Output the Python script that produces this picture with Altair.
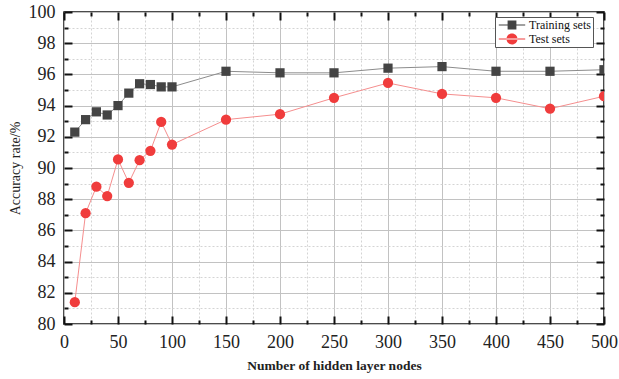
import altair as alt
import pandas as pd

FONT = "Liberation Serif"

nodes = [10, 20, 30, 40, 50, 60, 70, 80, 90, 100, 150, 200, 250, 300, 350, 400, 450, 500]
training = [92.3, 93.1, 93.6, 93.4, 94.0, 94.8, 95.4, 95.35, 95.2, 95.2,
            96.2, 96.1, 96.1, 96.4, 96.5, 96.2, 96.2, 96.3]
test = [81.4, 87.1, 88.8, 88.2, 90.55, 89.05, 90.5, 91.1, 92.95, 91.5,
        93.1, 93.45, 94.5, 95.45, 94.75, 94.5, 93.8, 94.6]
series_names = ["Training sets", "Test sets"]

x_major = list(range(0, 501, 50))
x_minor = list(range(25, 500, 50))
y_major = list(range(80, 101, 2))
y_minor = list(range(81, 100, 2))

df = pd.DataFrame({
    "nodes": nodes * 2,
    "acc": training + test,
    "series": [series_names[0]] * len(nodes) + [series_names[1]] * len(nodes),
})

xs = alt.Scale(domain=[0, 500], nice=False, zero=False)
ys = alt.Scale(domain=[80, 100], nice=False, zero=False)


def tick_axis(orient, values, size, grid=False, dash=None, **kw):
    args = dict(orient=orient, values=values, tickSize=size, offset=-size,
                domain=False, ticks=True, tickColor="#111", tickWidth=2,
                grid=grid, title=None)
    if grid:
        args["gridColor"] = "#c2c2c2" if dash is None else "#d4d4d4"
        args["gridWidth"] = 1
        if dash is not None:
            args["gridDash"] = dash
    if "labels" not in kw:
        args["labels"] = False
    args.update(kw)
    return alt.Axis(**args)


ax_bottom_major = tick_axis(
    "bottom", x_major, 8, grid=True, labels=True, labelFont=FONT,
    labelFontSize=18, labelColor="#222", labelPadding=9, labelFlush=False,
    labelOverlap=False, title="Number of hidden layer nodes", titleFont=FONT,
    titleFontSize=13.5, titleFontWeight="bold", titleColor="#222", titlePadding=7)
ax_left_major = tick_axis(
    "left", y_major, 8, grid=True, labels=True, labelFont=FONT,
    labelFontSize=18, labelColor="#222", labelPadding=9, labelOverlap=False,
    title="Accuracy rate/%", titleFont=FONT, titleFontSize=14,
    titleFontWeight="normal", titleColor="#222", titlePadding=6)
ax_bottom_minor = tick_axis("bottom", x_minor, 4, grid=True, dash=[2, 2])
ax_left_minor = tick_axis("left", y_minor, 4, grid=True, dash=[2, 2])
ax_top_major = tick_axis("top", x_major, 8)
ax_right_major = tick_axis("right", y_major, 8)
ax_top_minor = tick_axis("top", x_minor, 4)
ax_right_minor = tick_axis("right", y_minor, 4)

base = alt.Chart(df)

line_train = base.transform_filter(alt.datum.series == series_names[0]).mark_line(
    color="#8c8c8c", strokeWidth=1, clip=True
).encode(
    x=alt.X("nodes:Q", scale=xs, axis=ax_bottom_major),
    y=alt.Y("acc:Q", scale=ys, axis=ax_left_major),
)

line_test = base.transform_filter(alt.datum.series == series_names[1]).mark_line(
    color="#f58e8e", strokeWidth=1, clip=True
).encode(
    x=alt.X("nodes:Q", scale=xs, axis=ax_bottom_minor),
    y=alt.Y("acc:Q", scale=ys, axis=ax_left_minor),
)

points = base.mark_point(filled=True, opacity=1, clip=True).encode(
    x=alt.X("nodes:Q", scale=xs, axis=ax_top_major),
    y=alt.Y("acc:Q", scale=ys, axis=ax_right_major),
    shape=alt.Shape("series:N", scale=alt.Scale(domain=series_names, range=["square", "circle"]), legend=None),
    color=alt.Color("series:N", scale=alt.Scale(domain=series_names, range=["#444444", "#f03c3c"]), legend=None),
    size=alt.Size("series:N", scale=alt.Scale(domain=series_names, range=[85, 105]), legend=None),
)

sq_path = "M-2.4,-0.09H2.4V0.09H-2.4Z M-0.8,-0.8H0.8V0.8H-0.8Z"
ci_path = "M-2.4,-0.09H2.4V0.09H-2.4Z M-1,0A1,1 0 1,0 1,0A1,1 0 1,0 -1,0Z"

leg = alt.Legend(
    title=None, orient="none", legendX=431, legendY=5,
    labelFont=FONT, labelFontSize=12, labelColor="#111",
    symbolSize=121, symbolOffset=9, labelOffset=11, padding=2,
    rowPadding=2, strokeColor="#555", fillColor="white", symbolStrokeWidth=0,
)

legend_layer = base.transform_filter(alt.datum.nodes < 0).mark_point(filled=True, opacity=1).encode(
    x=alt.X("nodes:Q", scale=xs, axis=ax_top_minor),
    y=alt.Y("acc:Q", scale=ys, axis=ax_right_minor),
    shape=alt.Shape("series:N", scale=alt.Scale(domain=series_names, range=[sq_path, ci_path]), legend=leg),
    color=alt.Color("series:N", scale=alt.Scale(domain=series_names, range=["#444444", "#f03c3c"]), legend=leg),
)

chart = alt.layer(line_train, line_test, points, legend_layer).resolve_scale(
    color="independent", shape="independent"
).resolve_axis(
    x="independent", y="independent"
).properties(
    width=540, height=312, autosize="none",
    padding={"left": 64, "top": 12, "right": 15, "bottom": 55},
    background="white",
).configure_view(stroke="#111", strokeWidth=1.5)

chart.save("out.html", embed_options={"renderer": "svg", "actions": False})
